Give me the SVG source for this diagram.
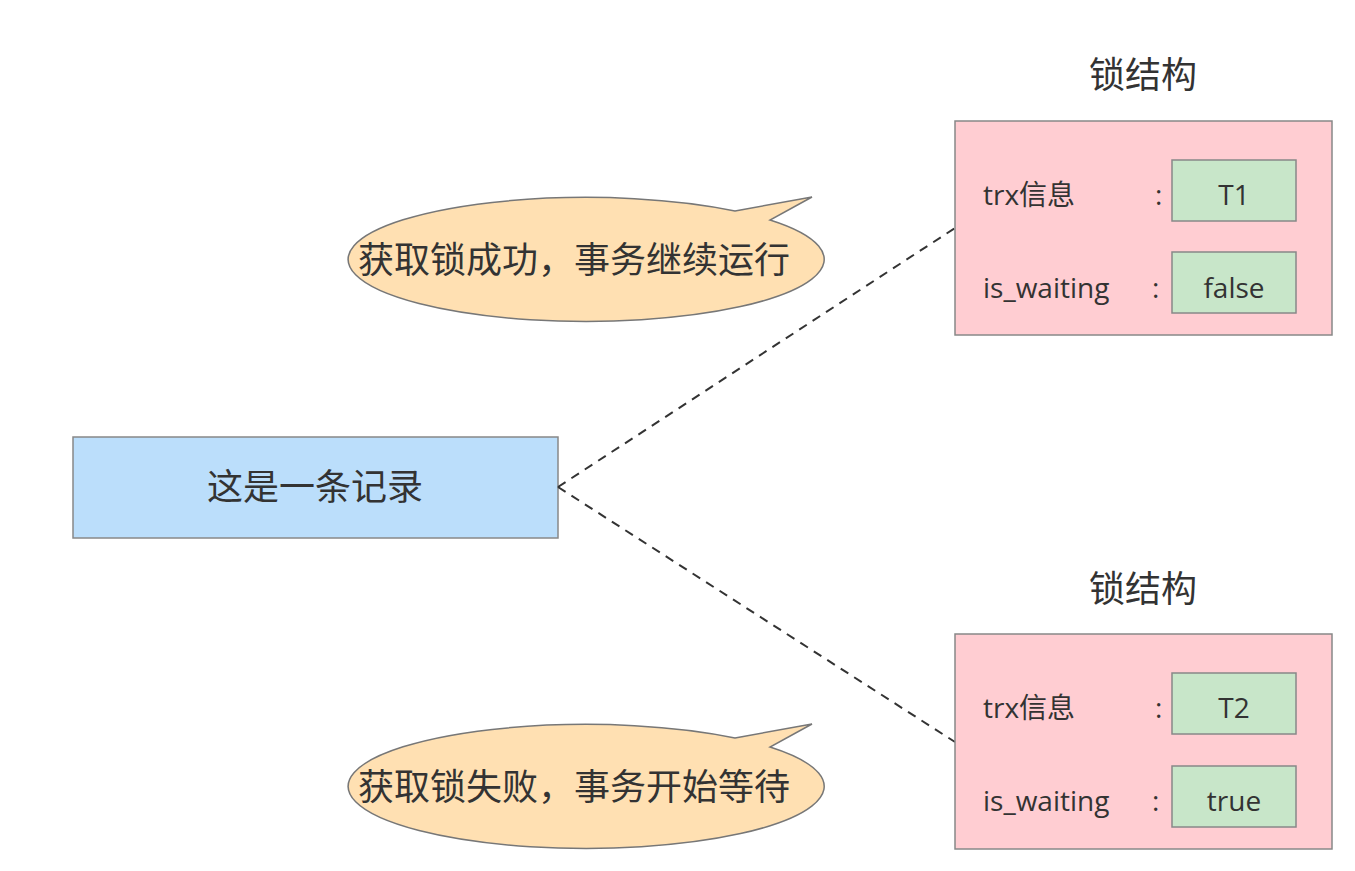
<svg xmlns="http://www.w3.org/2000/svg" width="1355" height="871" viewBox="0 0 1355 871">
<style>
text{font-family:"Open Sans","Noto Sans CJK SC",sans-serif;fill:#333}
.lock{fill:#ffcdd2;stroke:#888;stroke-width:1.5}
.val{fill:#c8e6c9;stroke:#888;stroke-width:1.5}
.bub{fill:#ffe0b2;stroke:#777;stroke-width:1.5}
.t{font-size:28px}
.c{font-size:36px}
</style>
<rect width="1355" height="871" fill="#fff"/>
<g id="record"><rect x="73" y="437" width="485" height="101" fill="#bbdefb" stroke="#888" stroke-width="1.5"/><text x="315" y="500" class="c" text-anchor="middle">这是一条记录</text></g>
<g id="connectors" stroke="#333" stroke-width="2" stroke-dasharray="9,7" fill="none">
<line x1="558" y1="487" x2="955" y2="228"/><line x1="558" y1="487" x2="955" y2="742"/>
</g>
<g id="lock1"><text x="1143" y="88" class="c" text-anchor="middle">锁结构</text>
<rect class="lock" x="955" y="121" width="377" height="214"/>
<text x="983" y="205" class="t">trx信息</text><text x="1155" y="205" class="t">:</text>
<rect class="val" x="1172" y="160" width="124" height="61"/><text x="1234" y="205" class="t" text-anchor="middle">T1</text>
<text x="983" y="298" class="t">is_waiting</text><text x="1152" y="298" class="t">:</text>
<rect class="val" x="1172" y="252" width="124" height="61"/><text x="1234" y="298" class="t" text-anchor="middle">false</text></g>
<g id="lock2"><text x="1143" y="602" class="c" text-anchor="middle">锁结构</text>
<rect class="lock" x="955" y="634" width="377" height="215"/>
<text x="983" y="718" class="t">trx信息</text><text x="1155" y="718" class="t">:</text>
<rect class="val" x="1172" y="673" width="124" height="61"/><text x="1234" y="718" class="t" text-anchor="middle">T2</text>
<text x="983" y="811" class="t">is_waiting</text><text x="1152" y="811" class="t">:</text>
<rect class="val" x="1172" y="766" width="124" height="61"/><text x="1234" y="811" class="t" text-anchor="middle">true</text></g>
<g id="bubble1"><path class="bub" d="M735,211 L812,197 L770,220 A238,62 0 1 1 735,211 Z"/>
<text x="574" y="273" class="c" text-anchor="middle">获取锁成功，事务继续运行</text></g>
<g id="bubble2"><path class="bub" d="M735,738 L812,724 L770,747 A238,62 0 1 1 735,738 Z"/>
<text x="574" y="800" class="c" text-anchor="middle">获取锁失败，事务开始等待</text></g>
</svg>
